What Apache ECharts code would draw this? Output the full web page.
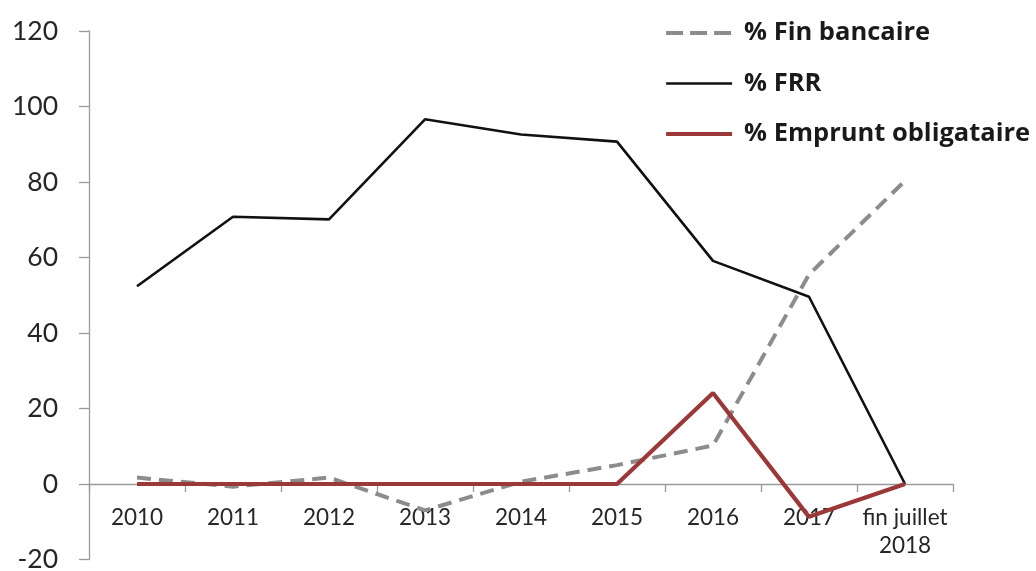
<!DOCTYPE html>
<html><head><meta charset="utf-8">
<script src="https://cdn.jsdelivr.net/npm/echarts@6/dist/echarts.min.js"></script>
<style>html,body{margin:0;padding:0;background:#fff}#c{width:1036px;height:571px}</style>
</head><body><div id="c"></div>
<script>
const categories = ['2010','2011','2012','2013','2014','2015','2016','2017','fin juillet\n2018'];
const finBancaire = [1.7, -0.7, 1.7, -7, 0.6, 5, 10.2, 55.5, 80.3];
const frr = [52.4, 70.8, 70.1, 96.6, 92.6, 90.7, 59.1, 49.6, 0];
const emprunt = [0, 0, 0, 0, 0, 0, 24.1, -8.7, 0];
const seriesNames = ['% Fin bancaire', '% FRR', '% Emprunt obligataire'];
const yTicks = {min: -20, max: 120, interval: 20};

const chart = echarts.init(document.getElementById('c'), null, {renderer: 'canvas'});
const axisColor = '#9a9a9a';
const textColor = '#262626';
const colors = ['#8c8c8c', '#111111', '#9b3838'];
const option = {
  animation: false,
  backgroundColor: '#fff',
  grid: {left: 89, right: 83, top: 31, bottom: 11.5, containLabel: false, outerBoundsMode: 'none'},
  legend: {
    orient: 'vertical', left: 664, top: 20, padding: 0,
    itemWidth: 66, itemHeight: 14, itemGap: 24.5,
    itemStyle: {opacity: 0},
    textStyle: {fontFamily: 'Open Sans', fontWeight: 'bold', fontSize: 25.5, color: '#1a1a1a', padding: [0,0,0,7]},
    data: [
      {name: seriesNames[0], lineStyle: {color: colors[0], width: 4, type: [17, 7]}},
      {name: seriesNames[1], lineStyle: {color: colors[1], width: 2.6}},
      {name: seriesNames[2], lineStyle: {color: colors[2], width: 4.2}}
    ]
  },
  xAxis: {
    type: 'category', data: categories, boundaryGap: true, position: 'bottom', offset: 0,
    axisLine: {onZero: false, lineStyle: {color: axisColor, width: 1.3}},
    axisTick: {show: true, length: 8, lineStyle: {color: axisColor, width: 1.3}},
    axisLabel: {fontFamily: 'Lato', fontSize: 22.5, color: textColor, margin: 20, lineHeight: 28, interval: 0},
    splitLine: {show: false}
  },
  yAxis: {
    type: 'value', min: yTicks.min, max: yTicks.max, interval: yTicks.interval,
    axisLine: {show: true, lineStyle: {color: axisColor, width: 1.3}},
    axisTick: {show: true, length: 10, lineStyle: {color: axisColor, width: 1.3}},
    axisLabel: {fontFamily: 'Lato', fontSize: 26.5, color: textColor, margin: 31},
    splitLine: {show: false}
  },
  series: [
    {name: seriesNames[0], type: 'line', data: finBancaire, symbol: 'none', z: 2,
     lineStyle: {color: colors[0], width: 4, type: [14, 8]}, itemStyle: {color: colors[0]}},
    {name: seriesNames[1], type: 'line', data: frr, symbol: 'none', z: 3,
     lineStyle: {color: colors[1], width: 2.6}, itemStyle: {color: colors[1]}},
    {name: seriesNames[2], type: 'line', data: emprunt, symbol: 'none', z: 4,
     lineStyle: {color: colors[2], width: 4.2}, itemStyle: {color: colors[2]}}
  ]
};
chart.setOption(option);
// move the category axis up onto the zero line using the y scale
const yZero = chart.convertToPixel({yAxisIndex: 0}, 0);
const yMin = chart.convertToPixel({yAxisIndex: 0}, yTicks.min);
chart.setOption({xAxis: {offset: -(yMin - yZero)}});
</script></body></html>
